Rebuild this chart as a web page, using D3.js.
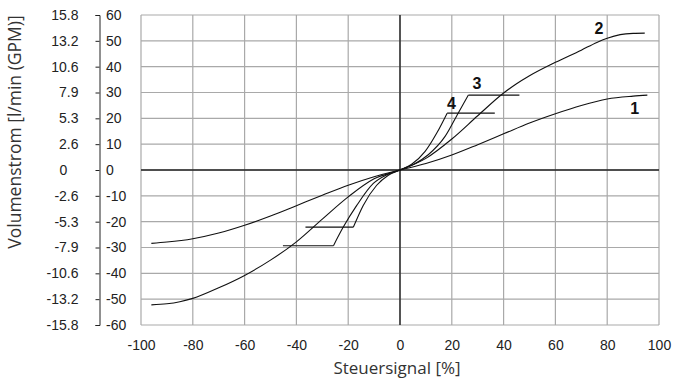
<!DOCTYPE html>
<html>
<head>
<meta charset="utf-8">
<script src="https://cdn.jsdelivr.net/npm/d3@7"></script>
<style>
  body { margin: 0; background: #fff; }
  svg { display: block; }
  .tick-label { font-family: "Liberation Sans", Arial, sans-serif; font-size: 14px; fill: #222; }
  .title { font-family: "Open Sans", sans-serif; fill: #333; }
  .curve-label { font-family: "Liberation Sans Narrow", "Liberation Sans", sans-serif; font-weight: bold; font-size: 16px; fill: #111; }
</style>
</head>
<body>
<svg id="main-svg" width="673" height="378"></svg>
<script>
// axis ticks
const signalTicks = [-100, -80, -60, -40, -20, 0, 20, 40, 60, 80, 100];
const flowTicks = [60, 50, 40, 30, 20, 10, 0, -10, -20, -30, -40, -50, -60];
const gpmLabels = ["15.8", "13.2", "10.6", "7.9", "5.3", "2.6", "0", "-2.6", "-5.3", "-7.9", "-10.6", "-13.2", "-15.8"];

// curve 1
const signal1 = [-96, -90, -80, -70, -60, -50, -40, -30, -20, -10, 0, 10, 20, 30, 40, 50, 60, 70, 80, 90, 95.5];
const flow1 = [-28.4, -27.9, -26.6, -24.4, -21.4, -17.8, -13.8, -9.8, -5.9, -2.6, 0, 2.5, 5.8, 9.8, 14.0, 18.2, 21.8, 25.0, 27.5, 28.6, 29.0];

// curve 2
const signal2 = [-96, -90, -85, -80, -70, -60, -50, -40, -30, -20, -10, 0, 10, 20, 30, 40, 45, 50, 60, 70, 76, 80, 85, 90, 94.5];
const flow2 = [-52.2, -51.8, -51.0, -49.7, -45.6, -40.8, -34.9, -27.8, -19.0, -10.4, -3.4, 0, 4.5, 12.0, 21.0, 29.8, 33.4, 36.5, 41.7, 46.4, 49.4, 51.0, 52.4, 52.9, 53.0];

// curve 3 (with flow limit)
const signal3 = [-25.7, -21.9, -16.7, -10.3, -5, 0, 5, 10.9, 17.4, 22.5, 26.4];
const flow3 = [-29.3, -22.1, -13.7, -5.2, -1.8, 0, 2.0, 5.9, 13.0, 22.1, 29.0];
const limit3 = [[-45.2, -25.7, -29.3], [26.4, 46.1, 29.0]];

// curve 4 (with flow limit)
const signal4 = [-18, -14.2, -9, -4.5, 0, 4.5, 9.7, 14.2, 18.2];
const flow4 = [-22.1, -13.7, -5.9, -2.0, 0, 2.2, 7.2, 14.3, 22.0];
const limit4 = [[-36.5, -18, -22.1], [18.2, 36.6, 22.0]];

const curveNames = ["1", "2", "3", "4"];
const labelSignal = [90.6, 76.8, 29.7, 19.9];
const labelFlow = [24.1, 55, 33.6, 25.7];

const svg = d3.select("#main-svg");

const x = d3.scaleLinear().domain([-100, 100]).range([141, 659]);
const y = d3.scaleLinear().domain([-60, 60]).range([325, 15]);

// grid
const grid = svg.append("g")
  .attr("stroke", "#a9a9a9")
  .attr("stroke-width", 1.2);

grid.selectAll("line.v")
  .data(signalTicks)
  .join("line")
  .attr("class", "v")
  .attr("x1", d => x(d)).attr("x2", d => x(d))
  .attr("y1", y(60)).attr("y2", y(-60));

grid.selectAll("line.h")
  .data(flowTicks)
  .join("line")
  .attr("class", "h")
  .attr("x1", x(-100)).attr("x2", x(100))
  .attr("y1", d => y(d)).attr("y2", d => y(d));

// zero axes
const zero = svg.append("g")
  .attr("stroke", "#222")
  .attr("stroke-width", 1.4);
zero.append("line")
  .attr("x1", x(0)).attr("x2", x(0))
  .attr("y1", y(60)).attr("y2", y(-60));
zero.append("line")
  .attr("x1", x(-100)).attr("x2", x(100))
  .attr("y1", y(0)).attr("y2", y(0));

// plain hyphen minus like the original
const plain = d => String(d);

// x axis labels
const xAxis = svg.append("g")
  .attr("transform", `translate(0,${y(-60)})`)
  .call(d3.axisBottom(x).tickValues(signalTicks).tickFormat(plain).tickSize(0).tickPadding(15));
xAxis.select(".domain").remove();
xAxis.selectAll("text").attr("class", "tick-label").attr("font-family", null).attr("font-size", null);

// l/min labels
const lpmAxis = svg.append("g")
  .attr("transform", "translate(106,0)")
  .call(d3.axisRight(y).tickValues(flowTicks).tickFormat(plain).tickSize(0).tickPadding(0));
lpmAxis.select(".domain").remove();
lpmAxis.selectAll("text").attr("class", "tick-label").attr("font-family", null).attr("font-size", null);

// GPM bracket axis
const gpmAxis = svg.append("g")
  .attr("transform", "translate(99.5,0)")
  .call(d3.axisLeft(y).tickValues(flowTicks)
    .tickFormat((d, i) => gpmLabels[i])
    .tickSizeInner(4).tickSizeOuter(4).tickPadding(17));
gpmAxis.selectAll("path, line").attr("stroke", "#222");
gpmAxis.selectAll("text").attr("class", "tick-label").attr("font-family", null).attr("font-size", null)
  .filter(d => d === 0)
  .attr("text-anchor", "middle")
  .attr("x", -36);

// curves
const line = d3.line()
  .x(d => x(d[0]))
  .y(d => y(d[1]))
  .curve(d3.curveMonotoneX);

const curves = [
  [signal1, flow1],
  [signal2, flow2],
  [signal3, flow3],
  [signal4, flow4]
].map(([s, f]) => s.map((v, i) => [v, f[i]]));

svg.append("g")
  .attr("fill", "none")
  .attr("stroke", "#111")
  .attr("stroke-width", 1.1)
  .selectAll("path")
  .data(curves)
  .join("path")
  .attr("d", line);

// flow limit segments
svg.append("g")
  .attr("stroke", "#111")
  .attr("stroke-width", 1.1)
  .selectAll("line")
  .data(limit3.concat(limit4))
  .join("line")
  .attr("x1", d => x(d[0]))
  .attr("x2", d => x(d[1]))
  .attr("y1", d => y(d[2]))
  .attr("y2", d => y(d[2]));

svg.append("g")
  .selectAll("text")
  .data(curveNames)
  .join("text")
  .attr("class", "curve-label")
  .attr("text-anchor", "middle")
  .attr("dy", "0.36em")
  .attr("x", (d, i) => x(labelSignal[i]))
  .attr("y", (d, i) => y(labelFlow[i]))
  .text(d => d);

// titles
svg.append("text")
  .attr("class", "title")
  .attr("font-size", 17)
  .attr("text-anchor", "middle")
  .attr("x", 397)
  .attr("y", 374)
  .text("Steuersignal [%]");

svg.append("text")
  .attr("class", "title")
  .attr("font-size", 17.5)
  .attr("text-anchor", "middle")
  .attr("transform", "translate(21,132) rotate(-90)")
  .text("Volumenstrom [l/min (GPM)]");
</script>
</body>
</html>
